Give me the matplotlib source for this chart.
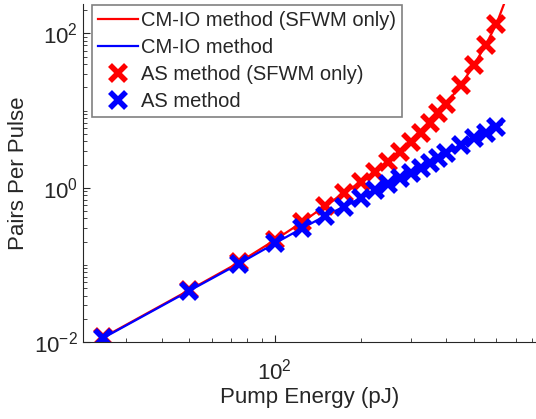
import matplotlib
matplotlib.use("Agg")
import matplotlib.pyplot as plt
from matplotlib.ticker import LogLocator, NullFormatter, FixedLocator

plt.rcParams['font.family'] = ['Liberation Sans', 'DejaVu Sans']

# pump energy (pJ) of the AS points
energy = [25, 50, 75, 100, 125, 150, 175, 200, 225, 250, 275, 300, 325,
          350, 375, 400, 450, 500, 550, 600]
# pairs per pulse, AS method
as_sfwm = [0.0115, 0.047, 0.108, 0.21, 0.36, 0.58, 0.85, 1.18, 1.6, 2.15,
           2.9, 3.9, 5.2, 6.9, 9.2, 12.3, 21.5, 39, 71, 133]
as_full = [0.0113, 0.046, 0.104, 0.19, 0.30, 0.43, 0.57, 0.73, 0.93, 1.13,
           1.34, 1.56, 1.82, 2.1, 2.45, 2.8, 3.6, 4.4, 5.2, 6.1]

# CM-IO curves
cm_energy_sfwm = energy + [650]
cm_sfwm = as_sfwm + [290]
cm_energy_full = energy + [625]
cm_full = as_full + [6.6]

fig = plt.figure(figsize=(5.36, 4.19), dpi=100)
ax = fig.add_axes([83/536, 1 - 342/419, 1 - 83/536, (342 - 4)/419])

txt = '#262626'
ax.loglog(cm_energy_sfwm, cm_sfwm, color='r', lw=1.6, label='CM-IO method (SFWM only)')
ax.loglog(cm_energy_full, cm_full, color='b', lw=1.6, label='CM-IO method')
ax.loglog(energy, as_sfwm, 'x', color='r', ms=11, mew=4, label='AS method (SFWM only)')
ax.loglog(energy, as_full, 'x', color='b', ms=11, mew=4, label='AS method')

ax.set_xlim(21.2, 826)
ax.set_ylim(0.01, 241)

ax.xaxis.set_major_locator(FixedLocator([100]))
ax.xaxis.set_minor_locator(LogLocator(base=10, subs=range(1, 10), numticks=20))
ax.xaxis.set_minor_formatter(NullFormatter())
ax.yaxis.set_major_locator(FixedLocator([1e-2, 1, 1e2]))
ax.yaxis.set_minor_locator(LogLocator(base=10, subs=range(1, 10), numticks=20))
ax.yaxis.set_minor_formatter(NullFormatter())

for s in ['top', 'right']:
    ax.spines[s].set_visible(False)
for s in ['left', 'bottom']:
    ax.spines[s].set_color(txt)
    ax.spines[s].set_linewidth(0.8)
ax.tick_params(which='both', direction='in', colors=txt, labelsize=16)
ax.tick_params(which='major', length=5, width=0.8)
ax.tick_params(which='minor', length=3, width=0.6)
ax.tick_params(axis='x', which='major', pad=12)

ax.set_xlabel('Pump Energy (pJ)', fontsize=16, color=txt, labelpad=2)
ax.set_ylabel('Pairs Per Pulse', fontsize=16, color=txt)

leg = ax.legend(loc='upper left', bbox_to_anchor=(92/536, 1 - 5/419),
                bbox_transform=fig.transFigure, borderaxespad=0,
                fontsize=14.5, fancybox=False, framealpha=1,
                edgecolor='#808080', labelspacing=0.4, handlelength=2.0,
                handletextpad=0.15, borderpad=0.3)
leg.get_frame().set_linewidth(1.2)
for t in leg.get_texts():
    t.set_color(txt)

fig.savefig('out.png', dpi=100)
